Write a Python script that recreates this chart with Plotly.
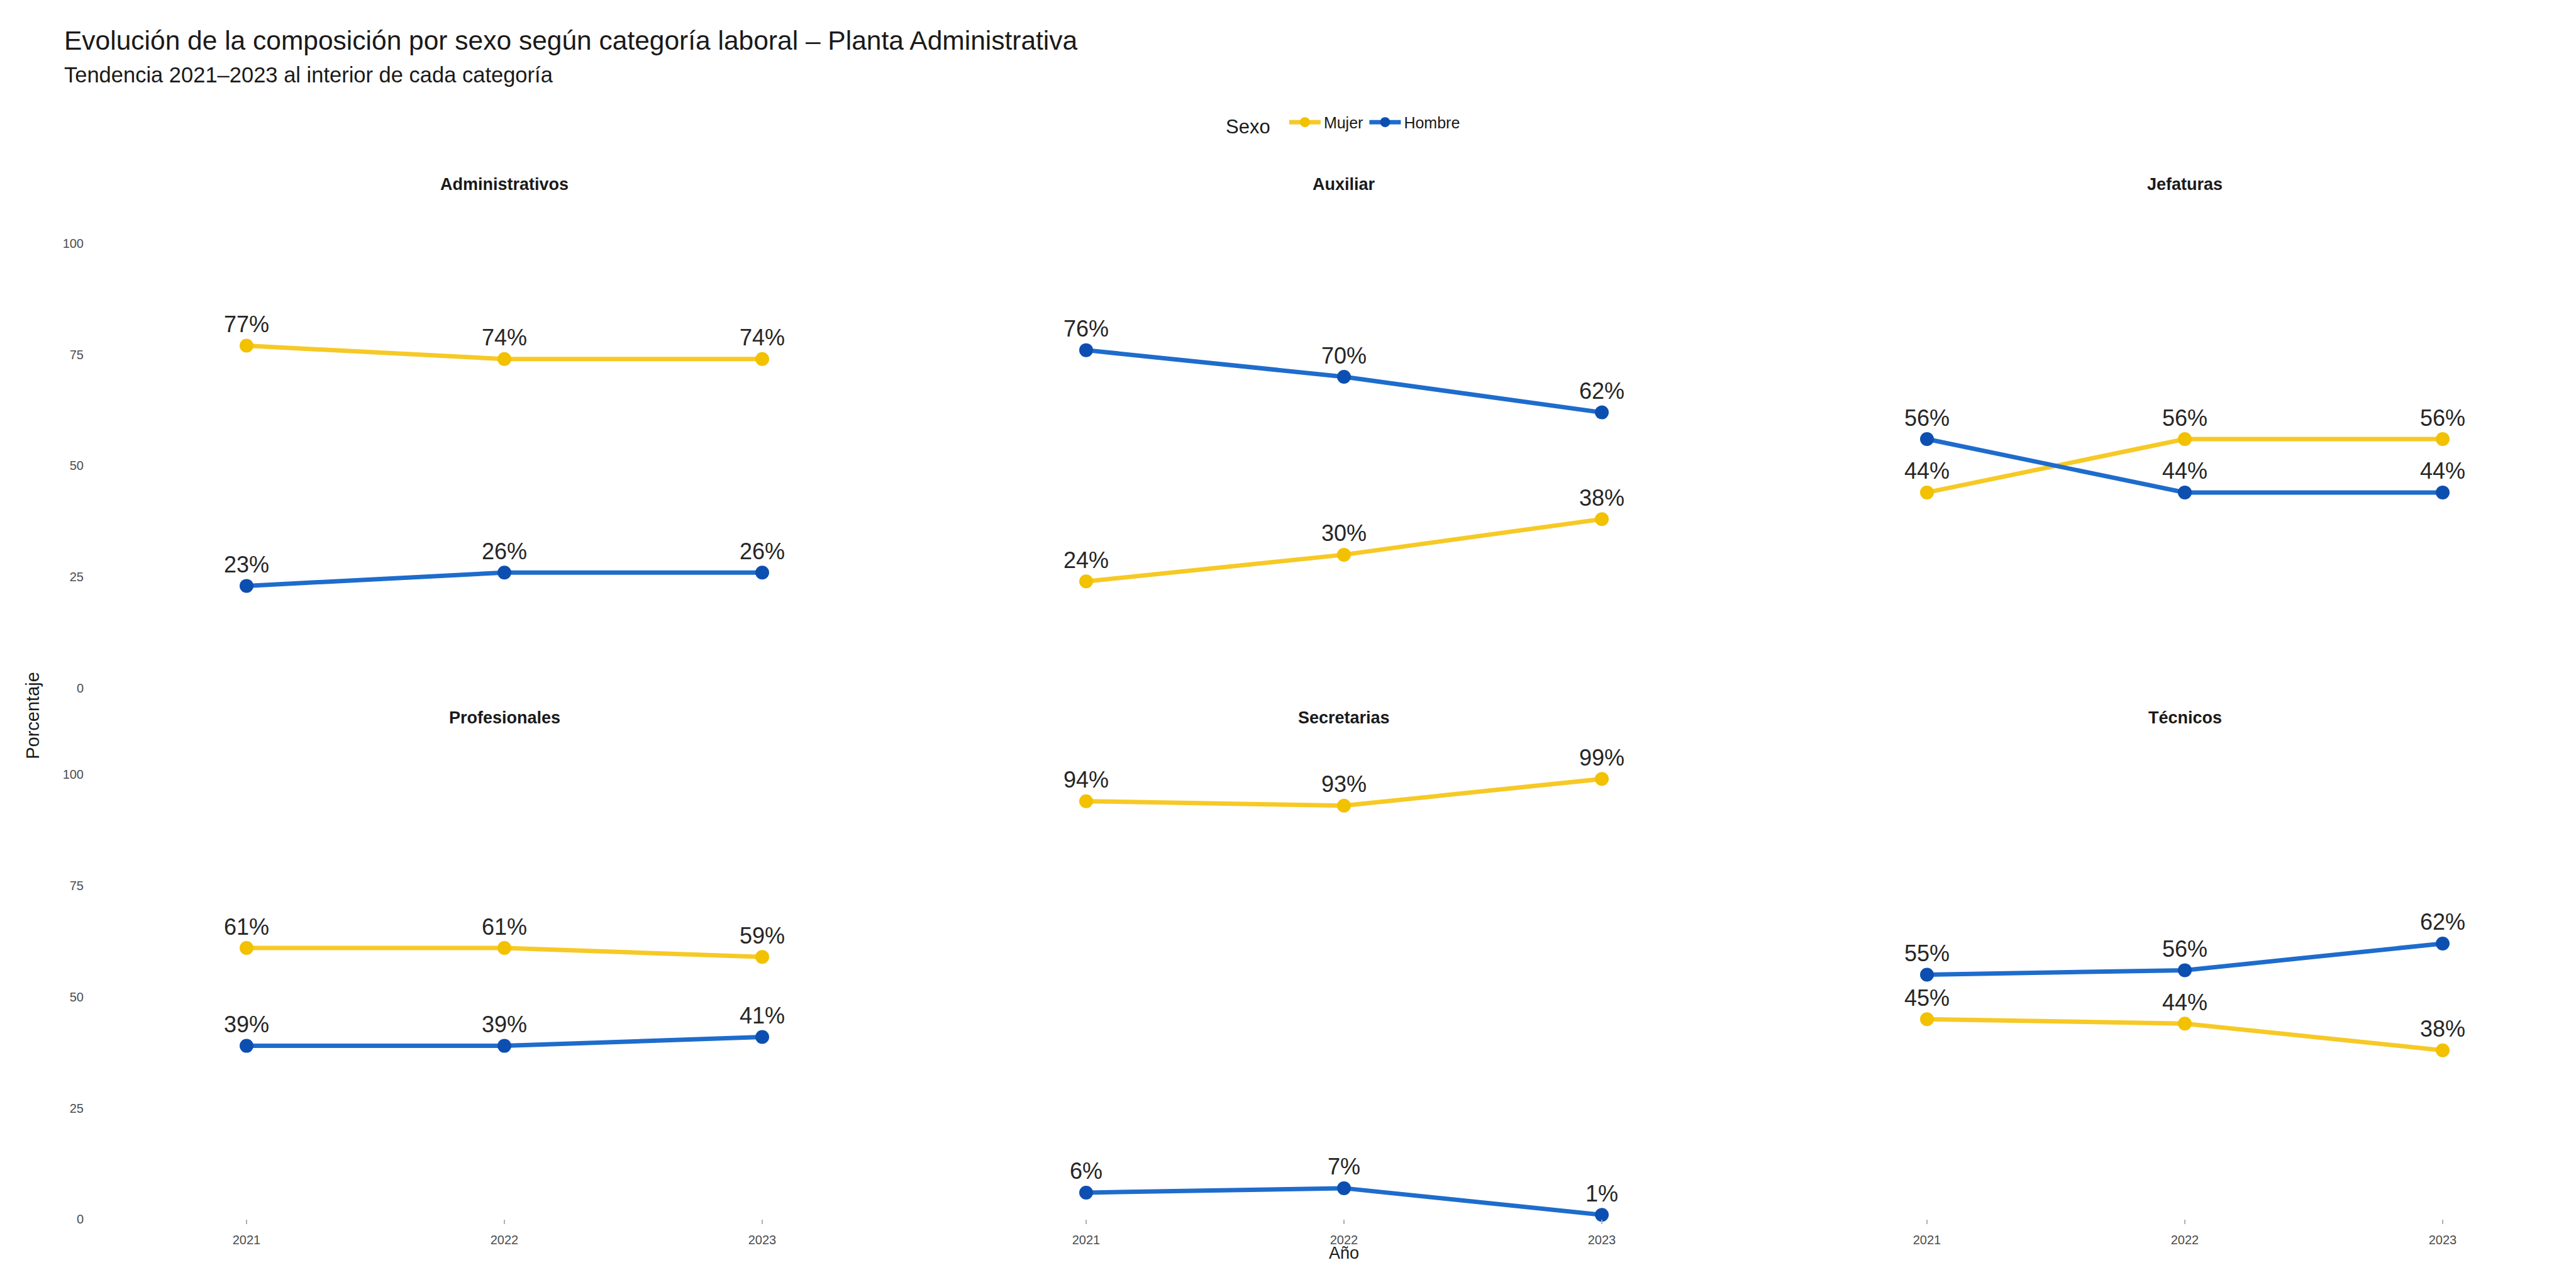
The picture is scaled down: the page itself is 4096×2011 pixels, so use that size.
import plotly.graph_objects as go

# ---------------- data ----------------
years = [2021, 2022, 2023]
categories = ["Administrativos", "Auxiliar", "Jefaturas",
              "Profesionales", "Secretarias", "Técnicos"]
mujer = {
    "Administrativos": [77, 74, 74],
    "Auxiliar": [24, 30, 38],
    "Jefaturas": [44, 56, 56],
    "Profesionales": [61, 61, 59],
    "Secretarias": [94, 93, 99],
    "Técnicos": [45, 44, 38],
}
hombre = {
    "Administrativos": [23, 26, 26],
    "Auxiliar": [76, 70, 62],
    "Jefaturas": [56, 44, 44],
    "Profesionales": [39, 39, 41],
    "Secretarias": [6, 7, 1],
    "Técnicos": [55, 56, 62],
}
y_ticks = [0, 25, 50, 75, 100]

# ---------------- styling ----------------
W, H = 4096, 2011
FONT = "Liberation Sans, Arial, sans-serif"
COL_M_LINE, COL_M_MK = "#F6C925", "#F2C100"
COL_H_LINE, COL_H_MK = "#1E6CCC", "#0D4FB0"

# panel geometry in pixels
col_left = [138, 1473, 2810]
px_per_year = 410
col_right = [1450, 2785, 4096]
row_bottom = [1092, 1941]
y_top_val = 108
px_per_unit = 7.11
strip_y = [287, 1139]

fig = go.Figure()
layout = dict(
    width=W, height=H,
    margin=dict(l=0, r=0, t=0, b=0),
    paper_bgcolor="white", plot_bgcolor="white",
    font=dict(family=FONT, color="#333333"),
    showlegend=True,
)
annotations = []

for i, cat in enumerate(categories):
    r, c = divmod(i, 3)
    ax = "" if i == 0 else str(i + 1)
    x0, x1 = col_left[c], col_right[c]
    xr0 = 2020.4
    xr1 = xr0 + (x1 - x0) / px_per_year
    yb = row_bottom[r]
    yt = yb - y_top_val * px_per_unit
    layout["xaxis" + ax] = dict(
        domain=[x0 / W, x1 / W], range=[xr0, xr1], anchor="y" + ax,
        tickvals=years, ticktext=[str(y) for y in years],
        showticklabels=(r == 1), ticks="outside" if r == 1 else "",
        ticklen=7, tickwidth=2, tickcolor="#b0b0b0",
        ticklabelstandoff=8,
        tickfont=dict(size=20, color="#4d4d4d"),
        showgrid=False, zeroline=False, showline=False, fixedrange=True,
    )
    layout["yaxis" + ax] = dict(
        domain=[1 - yb / H, 1 - yt / H], range=[0, y_top_val], anchor="x" + ax,
        tickvals=y_ticks, showticklabels=(c == 0), ticks="",
        ticklabelstandoff=12,
        tickfont=dict(size=20, color="#4d4d4d"),
        showgrid=False, zeroline=False, showline=False, fixedrange=True,
    )
    for name, data, lc, mc in (("Mujer", mujer, COL_M_LINE, COL_M_MK),
                               ("Hombre", hombre, COL_H_LINE, COL_H_MK)):
        vals = data[cat]
        fig.add_trace(go.Scatter(
            x=years, y=vals, mode="lines+markers", name=name,
            legendgroup=name, showlegend=(i == 0),
            line=dict(color=lc, width=7),
            marker=dict(color=mc, size=22),
            cliponaxis=False,
            xaxis="x" + ax, yaxis="y" + ax,
        ))
        for xv, v in zip(years, vals):
            annotations.append(dict(
                x=xv, y=v, xref="x" + ax, yref="y" + ax,
                text=f"{v}%", showarrow=False,
                xanchor="center", yanchor="middle", yshift=34,
                font=dict(size=36, color="#262626", family=FONT),
            ))
    # strip title
    annotations.append(dict(
        x=2022, y=1 - strip_y[r] / H, xref="x" + ax, yref="paper",
        text=f"<b>{cat}</b>", showarrow=False,
        xanchor="center", yanchor="middle",
        font=dict(size=27, color="#1a1a1a", family=FONT),
    ))

# titles
annotations.append(dict(
    x=92 / W, y=1 - 57 / H, xref="paper", yref="paper",
    text="Evolución de la composición por sexo según categoría laboral – Planta Administrativa",
    showarrow=False, xanchor="left", yanchor="middle",
    font=dict(size=42.5, color="#1a1a1a", family=FONT),
))
annotations.append(dict(
    x=92 / W, y=1 - 112 / H, xref="paper", yref="paper",
    text="Tendencia 2021–2023 al interior de cada categoría",
    showarrow=False, xanchor="left", yanchor="middle",
    font=dict(size=34.5, color="#1a1a1a", family=FONT),
))
# axis titles
annotations.append(dict(
    x=44 / W, y=1 - 1136 / H, xref="paper", yref="paper",
    text="Porcentaje", textangle=-90, showarrow=False,
    xanchor="center", yanchor="middle",
    font=dict(size=29, color="#1a1a1a", family=FONT),
))
annotations.append(dict(
    x=2129 / W, y=0, xref="paper", yref="paper",
    text="Año", showarrow=False, xanchor="center", yanchor="bottom",
    borderpad=0,
    font=dict(size=27, color="#1a1a1a", family=FONT),
))

layout["annotations"] = annotations
layout["legend"] = dict(
    orientation="h", x=2129 / W, xanchor="center",
    y=1 - 190 / H, yanchor="middle",
    title=dict(text="Sexo  ", font=dict(size=31, color="#1a1a1a", family=FONT)),
    font=dict(size=25, color="#1a1a1a", family=FONT),
    itemwidth=50, bgcolor="rgba(0,0,0,0)",
)
fig.update_layout(**layout)
fig.write_html("out.html")
